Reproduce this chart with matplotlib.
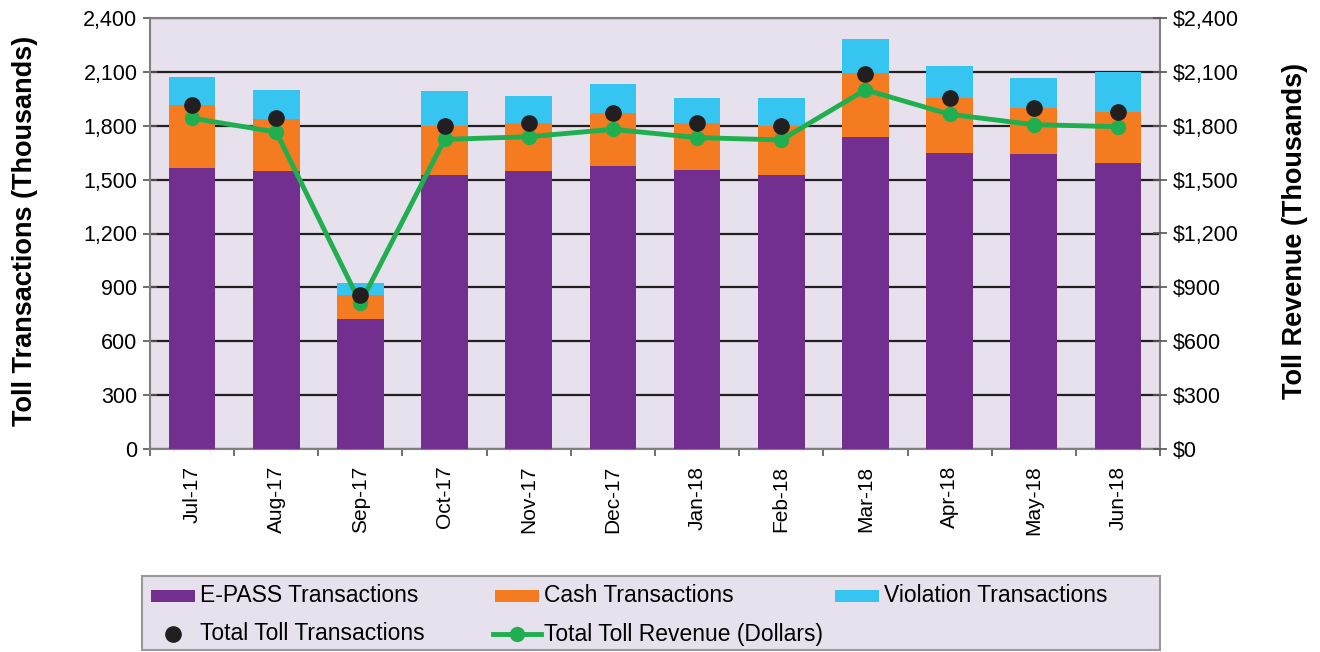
import matplotlib

matplotlib.use("Agg")
import matplotlib.pyplot as plt
from matplotlib.lines import Line2D
from matplotlib.patches import Rectangle
from matplotlib.ticker import FuncFormatter
import numpy as np

plt.rcParams["font.family"] = ["Liberation Sans", "DejaVu Sans"]

# values in thousands
months = ["Jul-17", "Aug-17", "Sep-17", "Oct-17", "Nov-17", "Dec-17",
          "Jan-18", "Feb-18", "Mar-18", "Apr-18", "May-18", "Jun-18"]
epass = [1565, 1547, 726, 1527, 1549, 1577, 1553, 1523, 1737, 1650, 1641, 1590]
cash = [350, 293, 129, 272, 267, 292, 261, 278, 354, 304, 259, 288]
violation = [158, 158, 69, 195, 152, 165, 143, 152, 190, 180, 167, 222]
total_transactions = [1916, 1842, 855, 1799, 1816, 1870, 1814, 1801, 2089, 1955, 1901, 1879]
total_revenue = [1842, 1765, 812, 1724, 1739, 1780, 1734, 1721, 2000, 1864, 1806, 1795]
y_ticks = [0, 300, 600, 900, 1200, 1500, 1800, 2100, 2400]

PURPLE = "#722F8F"
ORANGE = "#F47B20"
BLUE = "#36C5F0"
GREEN = "#1FAF4F"
BG = "#E6E1EC"
DOT = "#231F20"
W, H = 1320, 652


def fx(px):
    return px / W


def fy(py):
    return 1 - py / H


fig = plt.figure(figsize=(W / 100, H / 100), dpi=100)
ax = fig.add_axes([fx(150), fy(449), 1010 / W, 431 / H])
ax.set_facecolor(BG)

x = np.arange(len(months))
epass = np.array(epass)
cash = np.array(cash)
violation = np.array(violation)
w = 0.555
ax.bar(x, epass, w, color=PURPLE, zorder=3)
ax.bar(x, cash, w, bottom=epass, color=ORANGE, zorder=3)
ax.bar(x, violation, w, bottom=epass + cash, color=BLUE, zorder=3)

ax.set_xlim(-0.5, len(months) - 0.5)
ax.set_ylim(0, 2400)
ax.set_yticks(y_ticks)
ax.yaxis.set_major_formatter(FuncFormatter(lambda v, p: f"{int(v):,}"))
ax.grid(axis="y", color="#231F20", lw=1.6, zorder=1)
ax.set_axisbelow(True)
ax.set_xticks(x)
ax.set_xticklabels(months, rotation=90, fontsize=15)
ax.set_xticks(np.arange(-0.5, len(months), 1.0), minor=True)
ax.tick_params(axis="x", which="major", length=0, pad=12)
ax.tick_params(axis="x", which="minor", length=5, color="#555555", width=1.2)
ax.tick_params(axis="y", labelsize=15.5, length=10, direction="inout",
               color="#555555", width=1.2, pad=4)
for s in ax.spines.values():
    s.set_color("#808080")
    s.set_linewidth(1.5)

ax2 = ax.twinx()
ax2.set_ylim(0, 2400)
ax2.set_yticks(y_ticks)
ax2.yaxis.set_major_formatter(FuncFormatter(lambda v, p: f"${int(v):,}"))
ax2.tick_params(axis="y", labelsize=15.5, length=10, direction="inout",
                color="#555555", width=1.2, pad=4)
for s in ax2.spines.values():
    s.set_visible(False)

ax2.plot(x, total_revenue, color=GREEN, lw=3.5, marker="o", ms=10, zorder=4)
ax2.plot(x, total_transactions, ls="none", marker="o", ms=11, color=DOT, zorder=5)

fig.text(fx(25), fy(231), "Toll Transactions (Thousands)", rotation=90,
         ha="center", va="center", fontsize=19.5, fontweight="bold")
fig.text(fx(1295), fy(231), "Toll Revenue (Thousands)", rotation=90,
         ha="center", va="center", fontsize=19.5, fontweight="bold")

# legend box, laid out by hand to match the column positions
fig.patches.append(Rectangle((fx(142), fy(650)), 1018 / W, 74 / H,
                             transform=fig.transFigure, facecolor=BG,
                             edgecolor="#999999", lw=1.5, zorder=0))
row1, row2 = 596, 634
for x0, color, label in [(151, PURPLE, "E-PASS Transactions"),
                         (495, ORANGE, "Cash Transactions"),
                         (835, BLUE, "Violation Transactions")]:
    fig.patches.append(Rectangle((fx(x0), fy(row1 + 6)), 44 / W, 12 / H,
                                 transform=fig.transFigure, facecolor=color,
                                 edgecolor="none"))
    fig.text(fx(x0 + 49), fy(row1), label, ha="left", va="center", fontsize=16.5)
fig.lines.append(Line2D([fx(173)], [fy(row2)], transform=fig.transFigure,
                        ls="none", marker="o", ms=11, color=DOT))
fig.text(fx(200), fy(row2), "Total Toll Transactions", ha="left", va="center",
         fontsize=16.5)
fig.lines.append(Line2D([fx(493), fx(541)], [fy(row2), fy(row2)],
                        transform=fig.transFigure, color=GREEN, lw=3.5))
fig.lines.append(Line2D([fx(517)], [fy(row2)], transform=fig.transFigure,
                        ls="none", marker="o", ms=10, color=GREEN))
fig.text(fx(544), fy(row2), "Total Toll Revenue (Dollars)", ha="left",
         va="center", fontsize=16.5)

fig.savefig("out.png", dpi=100)
